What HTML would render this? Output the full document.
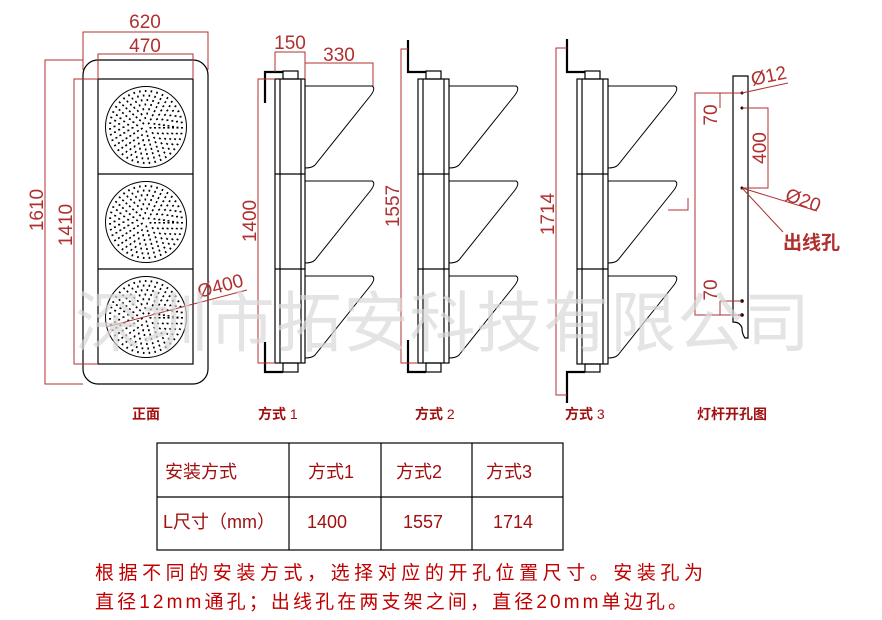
<!DOCTYPE html>
<html><head><meta charset="utf-8"><style>
html,body{margin:0;padding:0;background:#fff;}
svg{display:block;}
text{font-family:"Liberation Sans","Noto Sans CJK SC",sans-serif;}
</style></head><body>
<svg width="882" height="620" viewBox="0 0 882 620" xmlns="http://www.w3.org/2000/svg">
<defs>
<g id="dots">
<circle r="40.5" fill="none" stroke="#000" stroke-width="1"/>
<g fill="none" stroke="#000" stroke-width="2" stroke-dasharray="1.6 4.2">
<circle r="36"/><circle r="31.5"/><circle r="27"/><circle r="22.5"/><circle r="18"/><circle r="13.5"/><circle r="9"/><circle r="4.5"/>
</g>
</g>
<path id="visor" d="M0,7 H67 Q71,9 66,16 L10,86 Q7,89 0,89" fill="none" stroke="#000" stroke-width="1"/>
</defs>

<!-- Front view -->
<g fill="none" stroke="#000" stroke-width="1.2">
<rect x="83" y="60" width="125" height="324" rx="15"/>
<rect x="98" y="79" width="95" height="285"/>
<line x1="98" y1="174" x2="193" y2="174"/>
<line x1="98" y1="269" x2="193" y2="269"/>
</g>
<use href="#dots" x="146" y="127"/>
<use href="#dots" x="146" y="222"/>
<use href="#dots" x="146" y="317"/>
<g fill="none" stroke="#b03030" stroke-width="1">
<polyline points="83,70 83,32 208,32 208,70"/>
<polyline points="98,79 98,54 193,54 193,79"/>
<polyline points="83,60 45,60 45,384 83,384"/>
<polyline points="98,79 74,79 74,364 98,364"/>
<line x1="106" y1="327" x2="247" y2="290"/>
</g>
<g fill="#b03030" font-size="19">
<text x="145" y="28" text-anchor="middle">620</text>
<text x="145" y="52" text-anchor="middle">470</text>
<text transform="translate(43,210) rotate(-90)" text-anchor="middle">1610</text>
<text transform="translate(72,225) rotate(-90)" text-anchor="middle">1410</text>
<text transform="translate(222,292) rotate(-15)" text-anchor="middle">Ø400</text>
</g>

<!-- Side view 1 -->
<g fill="none" stroke="#000" stroke-width="1.2">
<rect x="275" y="79" width="30" height="284"/>
<line x1="280" y1="79" x2="280" y2="363"/><line x1="301" y1="79" x2="301" y2="363"/>
<line x1="275" y1="174" x2="305" y2="174"/><line x1="275" y1="269" x2="305" y2="269"/>
<rect x="283" y="71" width="15" height="8"/><rect x="283" y="363" width="15" height="9"/>
</g>
<g fill="none" stroke="#000" stroke-width="2.2">
<polyline points="265,103 265,72 283,72"/>
<polyline points="265,342 265,372 283,372"/>
</g>
<use href="#visor" x="305" y="79"/><use href="#visor" x="305" y="174"/><use href="#visor" x="305" y="269"/>
<g fill="none" stroke="#b03030" stroke-width="1">
<polyline points="275,79 258,79 258,363 275,363"/>
<polyline points="275,72 275,52 305,52 305,79"/>
<polyline points="305,63 373,63 373,86"/>
</g>
<g fill="#b03030" font-size="19">
<text x="290" y="49" text-anchor="middle">150</text>
<text x="339" y="61" text-anchor="middle">330</text>
<text transform="translate(256,221) rotate(-90)" text-anchor="middle">1400</text>
</g>

<!-- Side view 2 -->
<g fill="none" stroke="#000" stroke-width="1.2">
<rect x="418" y="79" width="31" height="284"/>
<line x1="423" y1="79" x2="423" y2="363"/><line x1="444" y1="79" x2="444" y2="363"/>
<line x1="418" y1="174" x2="449" y2="174"/><line x1="418" y1="269" x2="449" y2="269"/>
<rect x="426" y="71" width="15" height="8"/><rect x="426" y="363" width="15" height="9"/>
</g>
<g fill="none" stroke="#000" stroke-width="2.2">
<polyline points="408,40 408,72 426,72"/>
<polyline points="408,340 408,372 426,372"/>
</g>
<use href="#visor" x="449" y="79"/><use href="#visor" x="449" y="174"/><use href="#visor" x="449" y="269"/>
<polyline points="408,49 401,49 401,363 418,363" fill="none" stroke="#b03030"/>
<text transform="translate(399,206) rotate(-90)" text-anchor="middle" fill="#b03030" font-size="19">1557</text>

<!-- Side view 3 -->
<g fill="none" stroke="#000" stroke-width="1.2">
<rect x="577" y="79" width="31" height="285"/>
<line x1="582" y1="79" x2="582" y2="364"/><line x1="603" y1="79" x2="603" y2="364"/>
<line x1="577" y1="174" x2="608" y2="174"/><line x1="577" y1="269" x2="608" y2="269"/>
<rect x="585" y="71" width="15" height="8"/><rect x="585" y="364" width="15" height="8"/>
</g>
<g fill="none" stroke="#000" stroke-width="2.2">
<polyline points="567,39 567,72 585,72"/>
<polyline points="567,403 567,372 585,372"/>
</g>
<use href="#visor" x="608" y="79"/><use href="#visor" x="608" y="174"/><use href="#visor" x="608" y="269"/>
<polyline points="567,48 556,48 556,395 567,395" fill="none" stroke="#b03030"/>
<text transform="translate(554,214) rotate(-90)" text-anchor="middle" fill="#b03030" font-size="19">1714</text>

<!-- Pole -->
<path d="M733,76 H748 V338 H745 Q742,334 742,328 Q740,322 733,322 Z" fill="none" stroke="#000" stroke-width="1.2"/>
<g fill="#000"><circle cx="742" cy="93" r="1.5"/><circle cx="742" cy="108" r="1.5"/><circle cx="742" cy="188" r="1.5"/><circle cx="742" cy="301" r="1.8"/><circle cx="742" cy="315" r="1.8"/></g>
<g fill="none" stroke="#b03030" stroke-width="1">
<polyline points="742,93 695,93 695,315 742,315"/>
<line x1="720" y1="93" x2="720" y2="108"/>
<polyline points="742,108 768,108 768,188 742,188"/>
<line x1="742" y1="93" x2="788" y2="83"/>
<line x1="742" y1="188" x2="817" y2="211"/>
<line x1="742" y1="188" x2="783" y2="232"/>
<line x1="720" y1="301" x2="720" y2="315"/>
<line x1="720" y1="301" x2="742" y2="301"/>
<polyline points="668,210 688,210 688,198"/>
</g>
<g fill="#b03030" font-size="19">
<text transform="translate(717,115) rotate(-90)" text-anchor="middle">70</text>
<text transform="translate(717,290) rotate(-90)" text-anchor="middle">70</text>
<text transform="translate(766,148) rotate(-90)" text-anchor="middle">400</text>
<text transform="translate(770,82) rotate(-12)" text-anchor="middle">Ø12</text>
<text transform="translate(801,206) rotate(20)" text-anchor="middle">Ø20</text>
<text x="783" y="249" font-size="19" font-weight="bold">出线孔</text>
</g>

<!-- Labels -->
<g fill="#a01010" font-size="14">
<text x="132" y="419" font-weight="bold">正面</text>
<text x="258" y="419"><tspan font-weight="bold">方式</tspan> 1</text>
<text x="415" y="419"><tspan font-weight="bold">方式</tspan> 2</text>
<text x="565" y="419"><tspan font-weight="bold">方式</tspan> 3</text>
<text x="697" y="419" font-weight="bold">灯杆开孔图</text>
</g>

<!-- Table -->
<g fill="none" stroke="#000" stroke-width="1.2">
<rect x="157" y="443" width="406" height="107"/>
<line x1="157" y1="497" x2="563" y2="497"/>
<line x1="289" y1="443" x2="289" y2="550"/>
<line x1="381" y1="443" x2="381" y2="550"/>
<line x1="472" y1="443" x2="472" y2="550"/>
</g>
<g fill="#a01010" font-size="18">
<text x="165" y="478">安装方式</text>
<text x="308" y="478">方式1</text>
<text x="396" y="478">方式2</text>
<text x="486" y="478">方式3</text>
<text x="163" y="528">L尺寸（mm）</text>
<text x="307" y="528">1400</text>
<text x="403" y="528">1557</text>
<text x="493" y="528">1714</text>
</g>

<!-- Notes -->
<g fill="#c00000" font-size="19">
<text x="95" y="579" textLength="608" lengthAdjust="spacing">根据不同的安装方式，选择对应的开孔位置尺寸。安装孔为</text>
<text x="95" y="608" textLength="592" lengthAdjust="spacing">直径12mm通孔；出线孔在两支架之间，直径20mm单边孔。</text>
</g>

<!-- Watermark -->
<text x="75" y="346" font-size="66" fill="#d8d8d8" fill-opacity="0.7" textLength="735" lengthAdjust="spacing">深圳市拓安科技有限公司</text>
</svg>
</body></html>
